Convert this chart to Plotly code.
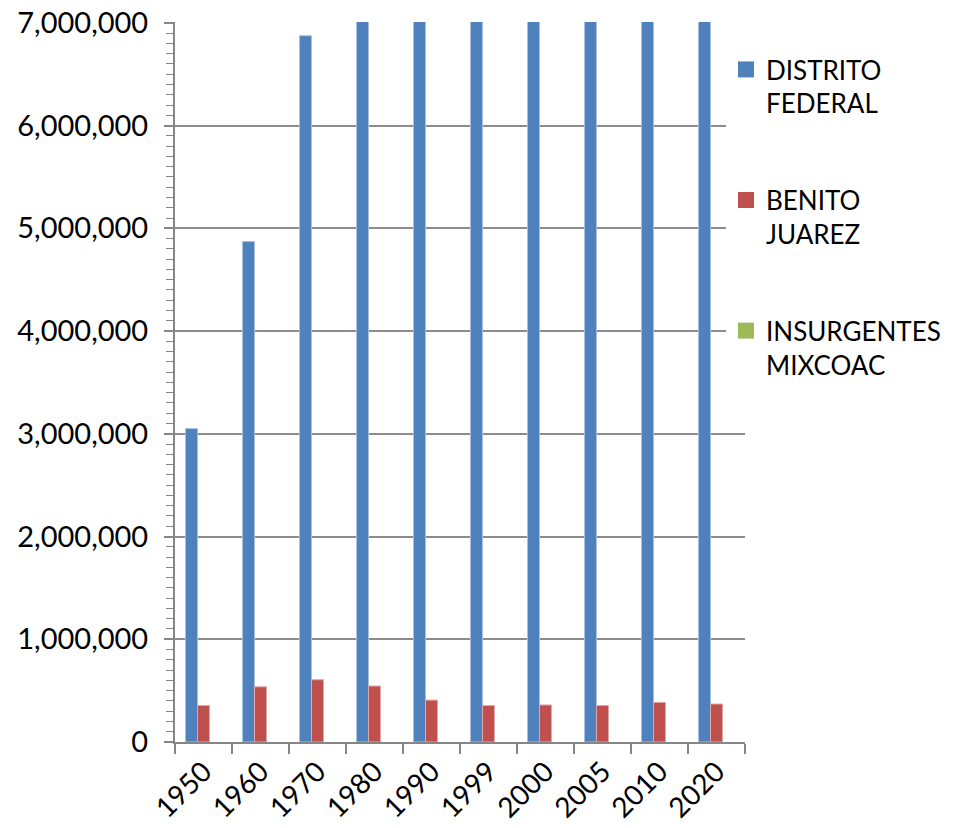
import plotly.graph_objects as go

years = ["1950", "1960", "1970", "1980", "1990", "1999", "2000", "2005", "2010", "2020"]
distrito_federal = [3050442, 4870876, 6874165, 8831079, 8235744, 8605000, 8605239, 8720916, 8851080, 9209944]
benito_juarez = [356000, 537000, 605962, 544882, 407811, 355000, 360478, 355017, 385439, 370000]
insurgentes_mixcoac = [0, 0, 0, 0, 0, 0, 0, 0, 0, 0]

names = ["DISTRITO<br>FEDERAL", "BENITO<br>JUAREZ", "INSURGENTES<br>MIXCOAC"]
colors = ["#4F81BD", "#C0504D", "#9BBB59"]
edge = ["#A7C0DE", "#E0A8A6", "#CDDDAC"]
edge_w = [1, 1, 0]
series = [distrito_federal, benito_juarez, insurgentes_mixcoac]

fig = go.Figure()
for i, (nm, vals) in enumerate(zip(names, series)):
    fig.add_trace(go.Bar(
        x=years, y=vals, name=nm, showlegend=False,
        marker=dict(color=colors[i], line=dict(color=edge[i], width=edge_w[i])),
    ))
for i, nm in enumerate(names):
    fig.add_trace(go.Scatter(
        x=[None], y=[None], mode="markers", name=nm, legendgroup=f"g{i}",
        marker=dict(symbol="square", size=16, color=colors[i]),
    ))

fig.update_layout(
    width=953, height=828,
    margin=dict(l=167, r=216, t=14, b=94, autoexpand=False),
    paper_bgcolor="white", plot_bgcolor="white",
    barmode="group", bargap=0.37, bargroupgap=0,
    font=dict(family="Lato, Carlito, sans-serif", color="black"),
    showlegend=True,
    legend=dict(xref="container", yref="container", x=718/953, y=1-38/828,
                xanchor="left", yanchor="top",
                font=dict(size=26), valign="top", tracegroupgap=60,
                itemwidth=30),
)
fig.update_xaxes(
    type="category", showline=True, linecolor="#868686", linewidth=2,
    ticks="outside", tickson="boundaries", ticklen=10, tickwidth=2, tickcolor="#868686",
    tickangle=-45, tickfont=dict(size=28), showgrid=False, automargin=False,
    ticklabeloverflow="allow",
)
fig.update_yaxes(
    range=[0, 7008000], tickvals=[0, 1000000, 2000000, 3000000, 4000000, 5000000, 6000000, 7000000],
    tickformat=",d",
    showline=True, linecolor="#868686", linewidth=2,
    ticks="outside", ticklen=9, tickwidth=2, tickcolor="#868686",
    tickfont=dict(size=29), ticklabelstandoff=10, ticklabeloverflow="allow",
    showgrid=True, gridcolor="#8C8C8C", gridwidth=2,
    zeroline=False, automargin=False,
    minor=dict(dtick=100000, tick0=0, ticks="outside", ticklen=7, tickcolor="#868686", tickwidth=1, showgrid=False),
)

fig.write_html("out.html")
